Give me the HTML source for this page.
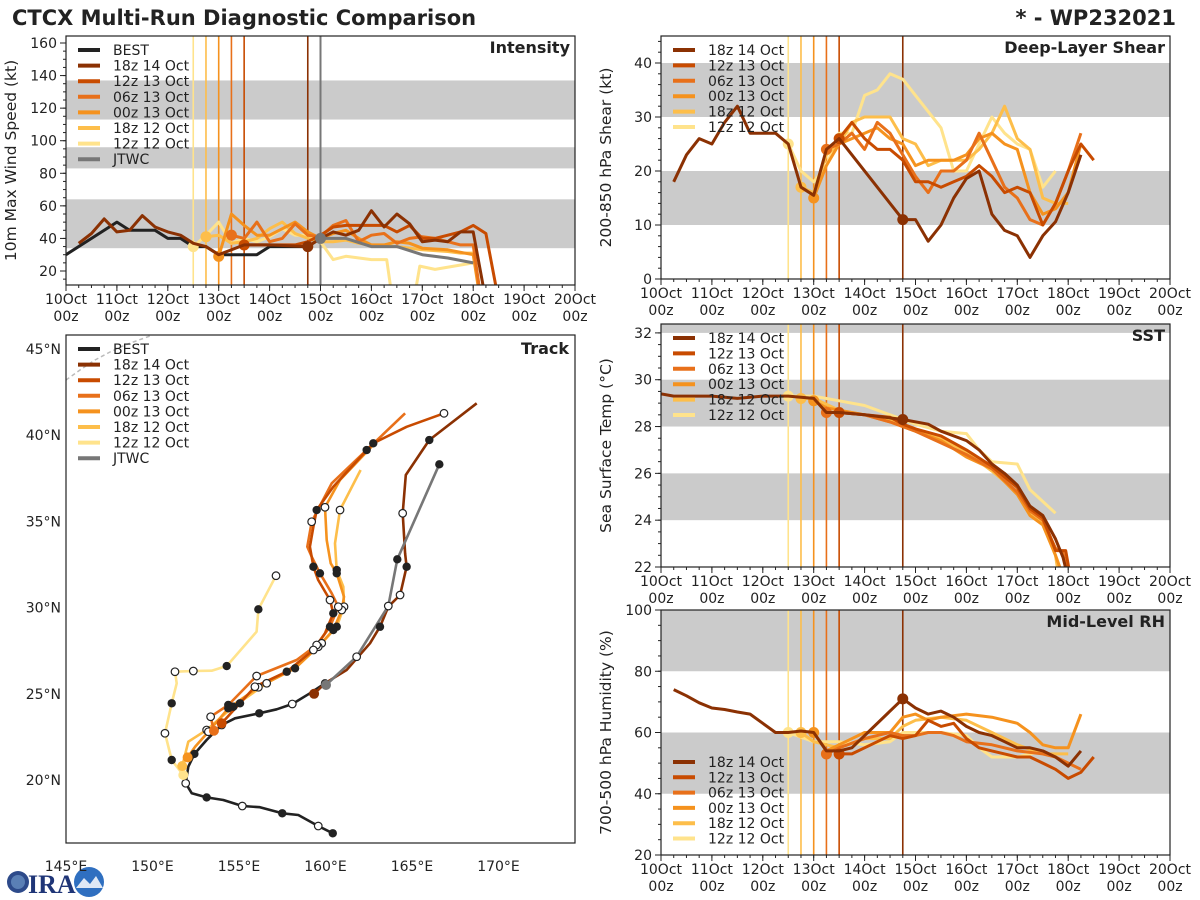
<!DOCTYPE html>
<html><head><meta charset="utf-8"><style>
html,body{margin:0;padding:0;background:#fff;width:1200px;height:900px;overflow:hidden}
svg{font-family:"DejaVu Sans","Liberation Sans",sans-serif}
</style></head><body>
<svg id="c" width="1200" height="900" xmlns="http://www.w3.org/2000/svg">
<text x="12" y="25" font-size="21" font-weight="bold" fill="#222">CTCX Multi-Run Diagnostic Comparison</text>
<text x="1176" y="25" font-size="21" font-weight="bold" fill="#222" text-anchor="end">* - WP232021</text>
<g>
<circle cx="18" cy="882" r="11" fill="#2d4a8a"/><circle cx="18" cy="882" r="7" fill="#5a7fb5"/>
<text x="28" y="893" font-size="26" font-weight="bold" fill="#1f3577" font-family="Liberation Serif,serif">IRA</text>
<circle cx="89" cy="882" r="15" fill="#2f6fc0"/><path d="M76 888 L84 878 L90 884 L96 876 L103 888 Z" fill="#dfe8f5"/>
</g>
</svg>
<script>
// ---------- data ----------
const dayLabels=["10Oct","11Oct","12Oct","13Oct","14Oct","15Oct","16Oct","17Oct","18Oct","19Oct","20Oct"];
const runNames=["18z 14 Oct","12z 13 Oct","06z 13 Oct","00z 13 Oct","18z 12 Oct","12z 12 Oct"];
const runColors=["#8b3103","#c84b00","#e8701a","#f5921e","#fdbe4a","#ffe38c"];
const runStart=[4.75,3.5,3.25,3.0,2.75,2.5];
const jtwcStart=5.0;
// intensity (kt)
const bestT=[0,1.0,1.25,1.75,2.0,2.25,2.5,2.75,3.0,3.75,4.0,4.75,5.0];
const bestV=[30,50,45,45,40,40,35,35,30,30,35,35,40];
const jtwcT=[5.0,5.5,6.0,6.5,7.0,7.5,8.0];
const jtwcV=[40,40,35,35,30,28,25];
const int0T=[0.25,0.5,0.75,1.0,1.25,1.5,1.75,2.0,2.25,2.5,2.75,3.0,3.5,4.0,4.75,5.0,5.25,5.5,5.75,6.0,6.25,6.5,6.75,7.0,7.25,7.5,7.75,8.0,8.2];
const int0V=[37,43,52,44,45,54,47,44,42,37,35,30,36,36,35,40,44,42,45,57,47,55,49,38,39,38,44,44,10];
const int1T=[3.5,4.0,4.5,4.75,5.0,5.25,5.5,5.75,6.0,6.25,6.5,6.75,7.0,7.25,7.5,7.75,8.0,8.25,8.45];
const int1V=[36,36,36,38,42,47,48,48,48,48,44,48,40,40,42,44,48,43,10];
const int2T=[3.25,3.5,3.75,4.0,4.25,4.5,4.75,5.0,5.25,5.5,5.75,6.0,6.25,6.5,6.75,7.0,7.25,7.5,7.75,8.0,8.12];
const int2V=[42,40,50,38,40,49,42,41,48,51,38,42,43,37,40,41,40,38,36,36,10];
const int3T=[3.0,3.25,3.5,3.75,4.0,4.25,4.5,4.75,5.0,5.25,5.5,5.75,6.0,6.25,6.5,6.75,7.0,7.5,8.0,8.1];
const int3V=[29,55,48,42,42,46,50,44,40,43,45,40,36,36,38,37,34,33,30,10];
const int4T=[2.75,3.0,3.25,3.5,3.75,4.0,4.25,4.5,4.75,5.0,5.25,5.5,5.75,6.0,6.5,7.0,7.5,7.75,8.0];
const int4V=[41,42,37,38,40,46,50,43,40,38,38,39,37,36,35,33,32,31,31];
const int5T=[2.5,2.75,3.0,3.25,3.5,3.75,4.0,4.25,4.5,4.75,5.0,5.25,5.5,6.0,6.3,6.4,6.85,6.95,7.25,8.0];
const int5V=[35,42,50,37,40,38,41,46,42,42,38,27,29,27,27,5,5,23,21,25];
// shear (kt)
const sh0T=[0.25,0.5,0.75,1.0,1.25,1.5,1.75,2.0,2.25,2.5,2.75,3.0,3.25,3.5,4.75,5.0,5.25,5.5,5.75,6.0,6.25,6.5,6.75,7.0,7.25,7.5,7.75,8.0,8.25];
const sh0V=[18,23,26,25,29,32,27,27,27,25,17,15.5,24,26,11,11,7,10,15,18.6,20,12,9,8,4,8,10.6,16,23];
const sh1T=[3.5,3.75,4.0,4.25,4.5,4.75,5.0,5.25,5.5,5.75,6.0,6.25,6.5,6.75,7.0,7.25,7.5,7.75,8.0,8.25,8.5];
const sh1V=[26,29,26,24,24,22,18,18,17,18,19,21,19,16,17,16,10,14,20,25,22];
const sh2T=[3.25,3.5,3.75,4.0,4.25,4.5,4.75,5.0,5.25,5.5,5.75,6.0,6.25,6.5,6.75,7.0,7.25,7.5,7.75,8.0,8.25];
const sh2V=[24,25,27,24,29,27,23,19,16,20,20,22,27,22,17,15,11,10,14,20,27];
const sh3T=[3.0,3.25,3.5,3.75,4.0,4.25,4.5,4.75,5.0,5.25,5.5,5.75,6.0,6.25,6.5,6.75,7.0,7.25,7.5,7.75,8.0,8.25];
const sh3V=[15,21,25,26,27,28,26,25,21,22,22,22,23,26,27,25,24,16,12,13,16,25];
const sh4T=[2.75,3.0,3.25,3.5,3.75,4.0,4.25,4.5,4.75,5.0,5.25,5.5,5.75,6.0,6.25,6.5,6.75,7.0,7.25,7.5,7.75,8.0];
const sh4V=[17,16,23,25,29,30,30,30,26,25,21,22,22,22,24,27,32,26,24,15,14,14];
const sh5T=[2.5,2.75,3.0,3.25,3.5,3.75,4.0,4.25,4.5,4.75,5.0,5.25,5.5,5.75,6.0,6.25,6.5,6.75,7.0,7.25,7.5,7.75];
const sh5V=[25,20,18,21,27,27,34,35,38,37,34,31,28,20,20,25,30,27,25,24,17,20];
// SST (C)
const sst0T=[0,0.25,1.0,1.5,2.0,2.5,3.0,3.25,3.5,4.0,4.75,5.25,5.5,6.0,6.25,6.5,6.75,7.0,7.25,7.5,7.75,7.9,8.0];
const sst0V=[29.4,29.3,29.3,29.2,29.3,29.3,29.2,28.6,28.6,28.5,28.3,28.1,27.8,27.4,27.0,26.4,26.0,25.5,24.6,24.2,23.2,22.4,21.5];
const sst1T=[3.5,4.0,4.5,4.75,5.0,5.5,6.0,6.5,7.0,7.25,7.5,7.75,7.95,8.05];
const sst1V=[28.6,28.5,28.4,28.1,27.9,27.6,27.0,26.3,25.4,24.5,24.1,22.7,22.7,21.5];
const sst2T=[3.25,3.5,4.0,4.5,5.0,5.5,6.0,6.5,7.0,7.25,7.5,7.75,7.9,8.0];
const sst2V=[28.6,28.6,28.5,28.2,27.8,27.3,26.8,26.2,25.2,24.4,24.0,22.8,22.6,21.5];
const sst3T=[3.0,3.25,3.5,4.0,4.5,5.0,5.5,6.0,6.5,7.0,7.25,7.5,7.75,7.85];
const sst3V=[29.1,28.8,28.7,28.5,28.2,27.8,27.4,26.7,26.2,25.1,24.2,23.8,22.5,21.9];
const sst4T=[2.75,3.0,3.5,4.0,4.5,5.0,5.5,6.0,6.5,7.0,7.25,7.5,7.75,7.8];
const sst4V=[29.2,29.2,28.7,28.5,28.3,27.9,27.5,26.9,26.1,25.2,24.3,23.9,22.5,21.8];
const sst5T=[2.5,3.0,3.5,4.0,4.5,5.0,5.5,6.0,6.25,6.5,7.0,7.25,7.5,7.75];
const sst5V=[29.3,29.3,29.1,28.9,28.5,28.1,27.8,27.7,27.0,26.5,26.4,25.3,24.8,24.3];
// RH (%)
const rh0T=[0.25,0.5,0.75,1.0,1.25,1.5,1.75,2.0,2.25,2.5,2.75,3.0,3.25,3.5,3.75,4.75,5.0,5.25,5.5,5.75,6.0,6.25,6.5,6.75,7.0,7.25,7.5,7.75,8.0,8.25];
const rh0V=[74,72,69.7,68,67.5,66.7,66,63,60,60,60.5,60,54,54,55,71,68,66,67,65,62,60,59,57,55,55,54,52,49,54];
const rh1T=[3.5,3.75,4.0,4.25,4.5,4.75,5.0,5.25,5.5,5.75,6.0,6.25,6.5,6.75,7.0,7.25,7.5,7.75,8.0,8.25,8.5];
const rh1V=[53,53,55,57,59,58,59,64,62,63,58,55,54,53,52,52,50,48,45,47,52];
const rh2T=[3.25,3.5,4.0,4.5,4.75,5.0,5.25,5.5,5.75,6.0,6.5,7.0,7.5,7.75,8.0,8.25];
const rh2V=[53,55,58,60,59,59,60,60,59,57,56,54,53,52,50,48];
const rh3T=[3.0,3.25,3.5,4.0,4.5,4.75,5.0,5.25,5.5,6.0,6.5,7.0,7.25,7.5,7.75,8.0,8.25];
const rh3V=[60,54,56,60,60,65,66,64,65,66,65,63,60,56,55,55,66];
const rh4T=[2.75,3.0,3.25,3.5,4.0,4.5,4.75,5.0,5.5,6.0,6.5,7.0,7.5,7.75,8.0];
const rh4V=[60,57,56,55,58,58,62,64,65,64,60,56,53,53,53];
const rh5T=[2.5,3.0,3.5,4.0,4.5,4.75,5.0,5.5,6.0,6.25,6.5,7.0,7.25,7.5];
const rh5V=[60,57,57,56,57,60,60,60,59,55,52,52,53,54];
// track (lon E, lat N)
const bestLon=[160.42,159.58,158.43,157.5,156.21,155.19,154.09,153.13,152.27,151.92,152.07,152.42,153.13,154.0,154.77,156.17,157.18,158.08,159.1,159.97];
const bestLat=[16.91,17.33,17.97,18.07,18.42,18.49,18.84,18.99,19.23,19.81,20.77,21.51,22.32,23.19,23.58,23.87,24.1,24.41,25.03,25.61];
const bestMk=["f","o","","f","","o","","f","","o","","f","","o","","f","","o","","f"];
const trk0Lon=[159.34,159.97,161.22,162.57,163.15,163.63,164.31,164.69,164.6,164.46,164.64,166.0,168.74];
const trk0Lat=[25.0,25.61,26.38,27.93,28.89,30.05,30.73,32.37,33.15,35.47,37.69,39.72,41.85];
const trk0Mk=["s","","","","f","","o","f","","o","","f",""];
const jtwcLon=[160.03,161.8,163.63,164.15,166.58];
const jtwcLat=[25.51,27.15,30.09,32.8,38.31];
const jtwcMk=["s","o","o","f","f"];
const trk1Lon=[154.0,155.06,155.92,157.76,159.3,159.97,160.45,160.26,159.58,159.3,159.1,159.3,159.49,160.45,162.76,164.69,166.85];
const trk1Lat=[23.29,24.45,25.41,26.28,27.54,28.51,29.67,30.44,31.6,32.37,33.53,34.69,35.66,37.01,39.53,40.49,41.27];
const trk1Mk=["s","f","o","f","o","","f","o","","f","","","f","","f","","o"];
const trk2Lon=[153.55,153.36,154.38,156.02,158.33,159.49,160.26,160.74,160.36,159.68,159.2,158.95,159.2,160.36,162.38,164.6];
const trk2Lat=[22.86,23.67,24.35,26.03,26.96,27.83,28.89,30.05,30.83,31.99,32.95,33.53,34.98,37.21,39.14,41.27];
const trk2Mk=["s","o","f","o","","o","f","o","","f","","","o","","f",""];
const trk3Lon=[152.03,152.46,153.23,154.38,156.12,158.24,159.58,160.45,160.94,161.07,160.65,160.3,160.07,159.97,160.84,162.76];
const trk3Lat=[21.31,21.93,22.8,24.16,25.38,26.48,27.73,28.7,29.86,30.63,31.99,32.57,33.92,35.82,37.4,39.43];
const trk3Mk=["s","","o","f","o","f","o","f","o","","f","","","o","",""];
const trk4Lon=[151.72,152.07,153.13,154.67,156.6,158.53,159.78,160.65,161.07,161.03,160.65,160.55,160.84,162.03];
const trk4Lat=[20.81,22.22,22.9,24.25,25.61,26.77,27.93,28.89,30.05,31.21,32.18,33.73,35.66,37.98];
const trk4Mk=["s","","o","f","o","","o","f","o","","f","","o",""];
const trk5Lon=[151.78,151.11,150.82,150.72,151.11,151.4,151.3,152.36,153.42,154.29,156.02,156.12,157.14];
const trk5Lat=[20.29,21.16,22.32,22.71,24.45,25.61,26.28,26.32,26.34,26.61,28.6,29.9,31.85];
const trk5Mk=["s","f","","o","f","","o","o","","f","","f","o"];

// ---------- helpers ----------
const S="http://www.w3.org/2000/svg", svg=document.getElementById('c');
function mk(tag,at,parent){const e=document.createElementNS(S,tag);for(const k in at)e.setAttribute(k,at[k]);(parent||svg).appendChild(e);return e;}
function txt(s,at,parent){const e=mk('text',at,parent);e.textContent=s;return e;}
let clipN=0;

function timePanel(name,x0,x1,y0,y1,ymin,ymax,bands,ticks,minor,yfmt,ytitle,title){
  const g=mk('g',{});
  
  
  const xs=d=>x0+d*(x1-x0)/10, ys=v=>y1-(v-ymin)*(y1-y0)/(ymax-ymin);
  const id='cp'+(clipN++);
  const cp=mk('clipPath',{id:id},g);mk('rect',{x:x0,y:y0,width:x1-x0,height:y1-y0},cp);
  bands.forEach(b=>{const r=mk('rect',{x:x0,y:ys(Math.min(b[1],ymax)),width:x1-x0,height:ys(b[0])-ys(Math.min(b[1],ymax)),fill:'#cbcbcb'},g);
    
    });
  const pg=mk('g',{'clip-path':'url(#'+id+')'},g);
  // y ticks
  ticks.forEach(v=>{mk('line',{x1:x0-6,x2:x0,y1:ys(v),y2:ys(v),stroke:'#222','stroke-width':1},g);
    const t=txt(yfmt(v),{x:x0-9,y:ys(v)+5,'font-size':14,'text-anchor':'end',fill:'#222'},g);
    
    });
  for(let v=Math.ceil(ymin/minor)*minor;v<=ymax;v+=minor)mk('line',{x1:x0-3,x2:x0,y1:ys(v),y2:ys(v),stroke:'#222','stroke-width':1},g);
  // x ticks
  dayLabels.forEach((l,i)=>{const x=xs(i);mk('line',{x1:x,x2:x,y1:y1,y2:y1+6,stroke:'#222'},g);
    const t=txt(l,{x:x,y:y1+19,'font-size':14,'text-anchor':'middle',fill:'#222'},g);
    
    
    txt('00z',{x:x,y:y1+36,'font-size':14,'text-anchor':'middle',fill:'#222'},g);});
  for(let i=0;i<40;i++)mk('line',{x1:xs(i/4),x2:xs(i/4),y1:y1,y2:y1+3,stroke:'#222'},g);
  const yt=txt(ytitle,{x:0,y:0,'font-size':15.5,'text-anchor':'middle',fill:'#222',transform:`translate(${x0-50},${(y0+y1)/2}) rotate(-90)`},g);
  
  
  const pt=txt(title,{x:x1-5,y:y0+17,'font-size':16,'font-weight':'bold','text-anchor':'end',fill:'#222'},g);
  
  
  return {g,pg,xs,ys,x0,x1,y0,y1};
}
function vlines(P,withJ){
  runStart.forEach((d,i)=>{const l=mk('line',{x1:P.xs(d),x2:P.xs(d),y1:P.y0,y2:P.y1,stroke:runColors[i],'stroke-width':1.6},P.pg);
    
    });
  if(withJ){const l=mk('line',{x1:P.xs(jtwcStart),x2:P.xs(jtwcStart),y1:P.y0,y2:P.y1,stroke:'#777','stroke-width':2},P.pg);
    
    }
}
function series(P,T,V,col,name,dot){
  const pts=T.map((t,i)=>P.xs(t).toFixed(1)+','+P.ys(V[i]).toFixed(1)).join(' ');
  const l=mk('polyline',{points:pts,fill:'none',stroke:col,'stroke-width':3,'stroke-linejoin':'round'},P.pg);
  
  
  if(dot!=null){const c=mk('circle',{cx:P.xs(dot[0]),cy:P.ys(dot[1]),r:5.5,fill:col},P.pg);
    
    }
}
function frame(P){mk('rect',{x:P.x0,y:P.y0,width:P.x1-P.x0,height:P.y1-P.y0,fill:'none',stroke:'#222','stroke-width':1.2},P.g);}
function legend(x,y,items,step){
  const g=mk('g',{});
  
  
  items.forEach((it,i)=>{const yy=y+i*step;mk('line',{x1:x,x2:x+22,y1:yy,y2:yy,stroke:it[1],'stroke-width':4},g);
    const t=txt(it[0],{x:x+35,y:yy+5,'font-size':14,fill:'#222'},g);
    
    });
}
const runItems=runNames.map((n,i)=>[n,runColors[i]]);
function valAt(T,V,d){for(let i=0;i<T.length;i++)if(Math.abs(T[i]-d)<1e-6)return V[i];return V[0];}

// ---------- intensity ----------
{const P=timePanel('intensity',66,575,36,285,11.4,164.3,[[34,64],[83,96],[113,137]],[20,40,60,80,100,120,140,160],5,v=>v,'10m Max Wind Speed (kt)','Intensity');
 vlines(P,true);
 const T=[int5T,int4T,int3T,int2T,int1T,int0T],V=[int5V,int4V,int3V,int2V,int1V,int0V];
 series(P,bestT,bestV,'#222','best-intensity',null);
 for(let k=0;k<6;k++){const i=5-k;series(P,T[k],V[k],runColors[i],'intensity-run-'+i,[runStart[i],valAt(T[k],V[k],runStart[i])]);}
 series(P,jtwcT,jtwcV,'#777','jtwc-intensity',[jtwcT[0],jtwcV[0]]);
 frame(P);
 legend(78,50,[['BEST','#222'],...runItems,['JTWC','#777']],15.6);}
// ---------- shear ----------
{const P=timePanel('shear',661,1170,36,279,0,45,[[10,20],[30,40]],[0,10,20,30,40],2,v=>v,'200-850 hPa Shear (kt)','Deep-Layer Shear');
 vlines(P,false);
 const T=[sh5T,sh4T,sh3T,sh2T,sh1T,sh0T],V=[sh5V,sh4V,sh3V,sh2V,sh1V,sh0V];
 for(let k=0;k<6;k++){const i=5-k;series(P,T[k],V[k],runColors[i],'shear-run-'+i,[runStart[i],valAt(T[k],V[k],runStart[i])]);}
 frame(P);legend(673,50,runItems,15.4);}
// ---------- SST ----------
{const P=timePanel('sst',661,1170,324,567,22,32.38,[[24,26],[28,30],[32,33]],[22,24,26,28,30,32],0.5,v=>v,'Sea Surface Temp (°C)','SST');
 vlines(P,false);
 const T=[sst5T,sst4T,sst3T,sst2T,sst1T,sst0T],V=[sst5V,sst4V,sst3V,sst2V,sst1V,sst0V];
 for(let k=0;k<6;k++){const i=5-k;series(P,T[k],V[k],runColors[i],'sst-run-'+i,[runStart[i],valAt(T[k],V[k],runStart[i])]);}
 frame(P);legend(673,338,runItems,15.4);}
// ---------- RH ----------
{const P=timePanel('rh',661,1170,610,855,20,100,[[40,60],[80,100]],[20,40,60,80,100],5,v=>v,'700-500 hPa Humidity (%)','Mid-Level RH');
 vlines(P,false);
 const T=[rh5T,rh4T,rh3T,rh2T,rh1T,rh0T],V=[rh5V,rh4V,rh3V,rh2V,rh1V,rh0V];
 for(let k=0;k<6;k++){const i=5-k;series(P,T[k],V[k],runColors[i],'rh-run-'+i,[runStart[i],valAt(T[k],V[k],runStart[i])]);}
 frame(P);legend(673,762,runItems,15.3);}
// ---------- track ----------
{const x0=66,x1=575,y0=335,y1=843;
 const lx=lon=>66+(lon-145)*17.3, ly=lat=>349+(45-lat)*17.24;
 const g=mk('g',{});
 
 
 const cp=mk('clipPath',{id:'tcp'},g);mk('rect',{x:x0,y:y0,width:x1-x0,height:y1-y0},cp);
 const pg=mk('g',{'clip-path':'url(#tcp)'},g);
 mk('path',{d:'M66 380 L80 370 L95 360 L110 352 L125 345 L150 336',fill:'none',stroke:'#bbb','stroke-width':1.5,'stroke-dasharray':'4,3'},pg);
 [145,150,155,160,165,170].forEach(l=>{const t=txt(l+'°E',{x:lx(l),y:871,'font-size':14,'text-anchor':'middle',fill:'#222'},g);
   
   });
 [20,25,30,35,40,45].forEach(l=>{const t=txt(l+'°N',{x:61,y:ly(l)+5,'font-size':14,'text-anchor':'end',fill:'#222'},g);
   
   });
 const tr=[[bestLon,bestLat,bestMk,'#222','best-track'],[trk5Lon,trk5Lat,trk5Mk,runColors[5],'track-run-5'],[trk4Lon,trk4Lat,trk4Mk,runColors[4],'track-run-4'],[trk3Lon,trk3Lat,trk3Mk,runColors[3],'track-run-3'],[trk2Lon,trk2Lat,trk2Mk,runColors[2],'track-run-2'],[trk1Lon,trk1Lat,trk1Mk,runColors[1],'track-run-1'],[trk0Lon,trk0Lat,trk0Mk,runColors[0],'track-run-0'],[jtwcLon,jtwcLat,jtwcMk,'#777','jtwc-track']];
 tr.forEach(t=>{const pts=t[0].map((l,i)=>lx(l).toFixed(1)+','+ly(t[1][i]).toFixed(1)).join(' ');
   const p=mk('polyline',{points:pts,fill:'none',stroke:t[3],'stroke-width':2.6,'stroke-linejoin':'round'},pg);
   
   });
 tr.forEach(t=>{t[2].forEach((m,i)=>{if(!m)return;const cx=lx(t[0][i]),cy=ly(t[1][i]);
   let c;
   if(m==='s')c=mk('circle',{cx,cy,r:5,fill:t[3]},pg);
   else if(m==='f')c=mk('circle',{cx,cy,r:4.2,fill:'#222'},pg);
   else c=mk('circle',{cx,cy,r:3.8,fill:'#fff',stroke:'#222','stroke-width':1.2},pg);
   
   });});
 mk('rect',{x:x0,y:y0,width:x1-x0,height:y1-y0,fill:'none',stroke:'#222','stroke-width':1.2},g);
 const pt=txt('Track',{x:x1-6,y:y0+19,'font-size':16,'font-weight':'bold','text-anchor':'end',fill:'#222'},g);
 
 
 legend(78,349,[['BEST','#222'],...runItems,['JTWC','#777']],15.6);}
</script>
</body></html>
